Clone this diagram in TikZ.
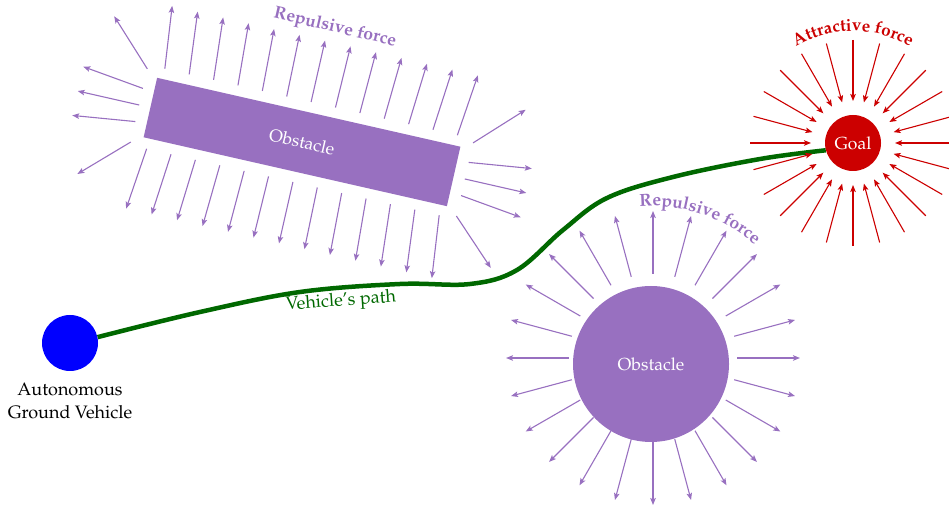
\documentclass[tikz,border=0pt]{standalone}
\usepackage[T1]{fontenc}
\usepackage{mathpazo}
\usetikzlibrary{arrows.meta,calc,decorations.text,backgrounds}
\definecolor{obstpurple}{RGB}{152,112,192}
\definecolor{goalred}{RGB}{204,0,0}
\definecolor{pathgreen}{RGB}{0,104,0}

\begin{document}
\begin{tikzpicture}[x=1pt,y=1pt,
    repel/.style={obstpurple,line width=1.1pt,-{Stealth[length=7pt,width=5.5pt,inset=1.5pt]}},
    attract/.style={goalred,line width=1.1pt,-{Stealth[length=7pt,width=5.5pt,inset=1.5pt]}},
    obstacle/.style={fill=obstpurple,text=white,inner sep=0pt,font=\fontsize{17.5}{20}\selectfont},
    forcelabel/.style={font=\fontsize{17.5}{18}\selectfont\bfseries},
    plain/.style={font=\fontsize{18}{22.5}\selectfont}]
\useasboundingbox (0,0) rectangle (949,508);

% vehicle and goal
\node[circle,fill=blue,minimum size=56pt,inner sep=0pt] (agv) at (70,165) {};
\node[plain,align=center] (agvlabel) at (70,107) {Autonomous\\Ground Vehicle};
\node[circle,fill=goalred,text=white,minimum size=56pt,inner sep=0pt,font=\fontsize{17.5}{20}\selectfont] (goal) at (853,365) {Goal};

% obstacles
\node[obstacle,minimum width=311pt,minimum height=61pt,rotate=-12.8] (box) at (302,366) {Obstacle};
\node[obstacle,circle,minimum size=156pt] (obs) at (651,144) {Obstacle};
\coordinate (obsfield) at (653,150);

% repulsive field of the box
\begin{scope}[shift={(box.center)},rotate=-12.8]
  \foreach \u in {-150,-125,...,150}{
    \draw[repel] (\u,41) -- (1.045*\u,104);
    \draw[repel] (\u,-41) -- (1.045*\u,-104);
  }
  \foreach \s in {-1,1}{
    \draw[repel] (\s*167,37) -- (\s*211,81);
    \draw[repel] (\s*167,17) -- (\s*230,25);
    \draw[repel] (\s*167,0) -- (\s*230,0);
    \draw[repel] (\s*167,-17) -- (\s*230,-25);
    \draw[repel] (\s*167,-38) -- (\s*212,-81);
  }
\end{scope}
\node[forcelabel,text=obstpurple,rotate=-13] (boxforce) at (335,480) {Repulsive force};

% repulsive field of the round obstacle
\foreach \a in {0,15,...,345}
  \draw[repel] ($(obsfield)+(\a:84)$) -- ($(obsfield)+(\a:147)$);
\path[decorate,decoration={text along path,text align=center,text color=obstpurple,
    text={|\fontsize{17.5}{18}\selectfont\bfseries|Repulsive force}}]
  ($(obsfield)+(108:152)$) arc[start angle=108,end angle=35,radius=152];

% attractive field of the goal
\foreach \a in {0,15,...,345}
  \draw[attract] ($(goal)+(\a:103)$) -- ($(goal)+(\a:42)$);
\path[decorate,decoration={text along path,text align=center,text color=goalred,
    text={|\fontsize{17}{18}\selectfont\bfseries|Attractive force}}]
  ($(goal)+(130:112)$) arc[start angle=130,end angle=50,radius=112];

% path of the vehicle
\begin{scope}[on background layer]
\draw[pathgreen,line width=4.5pt] plot[smooth,tension=0.6] coordinates
  {(agv.12) (200,196) (300,216) (400,224) (470,224) (517,238) (563,278) (607,310) (673,331) (760,349) (goal.195)};
\end{scope}
\node[plain,text=pathgreen,rotate=4] (pathlabel) at (341,206) {Vehicle's path};
\end{tikzpicture}
\end{document}
